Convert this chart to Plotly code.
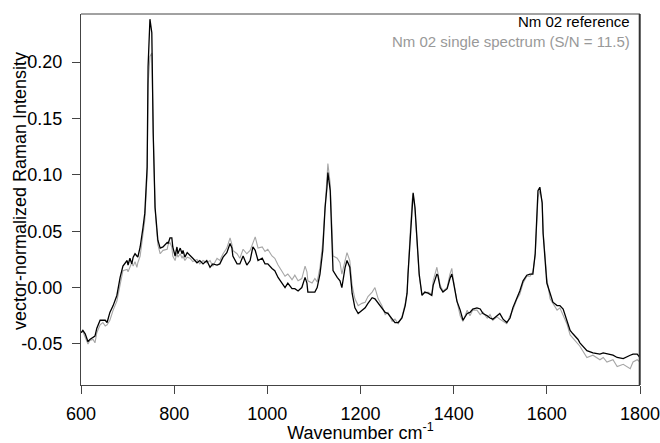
import plotly.graph_objects as go

# Raman shift axis (cm^-1) shared by both spectra
wavenumber = [
    600, 604, 609, 615, 619, 626, 630, 634, 641, 647, 652, 656, 662, 669, 677, 684,
    688, 690, 699, 701, 705, 709, 712, 716, 720, 722, 727, 731, 733, 737, 742, 744,
    748, 752, 755, 759, 763, 765, 770, 776, 785, 787, 791, 795, 797, 802, 806, 808,
    813, 817, 819, 823, 828, 834, 840, 849, 855, 862, 870, 877, 883, 892, 898, 905,
    913, 920, 924, 926, 935, 941, 948, 956, 963, 969, 974, 980, 989, 995, 1001, 1010,
    1016, 1023, 1031, 1038, 1044, 1053, 1059, 1066, 1074, 1081, 1085, 1087, 1096, 1102, 1107, 1113,
    1119, 1124, 1128, 1130, 1135, 1139, 1141, 1150, 1156, 1160, 1167, 1171, 1177, 1182, 1188, 1195,
    1203, 1210, 1216, 1225, 1231, 1238, 1246, 1253, 1259, 1268, 1274, 1281, 1289, 1296, 1300, 1302,
    1306, 1311, 1313, 1317, 1321, 1326, 1332, 1338, 1345, 1353, 1356, 1364, 1366, 1371, 1377, 1386,
    1392, 1396, 1399, 1407, 1414, 1420, 1429, 1435, 1441, 1450, 1457, 1463, 1472, 1478, 1484, 1493,
    1499, 1506, 1514, 1521, 1527, 1536, 1542, 1549, 1557, 1564, 1570, 1575, 1579, 1581, 1585, 1590,
    1592, 1596, 1600, 1607, 1613, 1622, 1628, 1635, 1643, 1650, 1656, 1667, 1671, 1686, 1699, 1714,
    1721, 1729, 1742, 1751, 1764, 1779, 1785, 1794, 1800,
]

# Nm 02 reference spectrum
reference = [
    -0.040, -0.038, -0.041, -0.048, -0.046, -0.044, -0.043, -0.036, -0.029, -0.029, -0.029, -0.031, -0.022, -0.016, -0.007, 0.009,
    0.018, 0.019, 0.024, 0.020, 0.026, 0.021, 0.027, 0.030, 0.028, 0.027, 0.036, 0.051, 0.053, 0.066, 0.107, 0.196,
    0.238, 0.226, 0.137, 0.071, 0.053, 0.042, 0.035, 0.036, 0.040, 0.039, 0.044, 0.044, 0.036, 0.028, 0.036, 0.030,
    0.035, 0.030, 0.033, 0.027, 0.031, 0.028, 0.026, 0.022, 0.024, 0.021, 0.024, 0.018, 0.021, 0.020, 0.021, 0.027,
    0.031, 0.039, 0.035, 0.028, 0.021, 0.021, 0.028, 0.020, 0.024, 0.036, 0.033, 0.024, 0.026, 0.021, 0.021, 0.017,
    0.015, 0.009, 0.004, 0.000, 0.004, -0.001, -0.001, -0.003, 0.000, 0.009, 0.004, -0.004, -0.004, -0.004, 0.000, 0.012,
    0.033, 0.071, 0.089, 0.102, 0.086, 0.044, 0.015, 0.009, 0.006, 0.000, 0.018, 0.024, 0.018, -0.005, -0.018, -0.023,
    -0.020, -0.018, -0.014, -0.009, -0.010, -0.014, -0.019, -0.022, -0.023, -0.028, -0.031, -0.031, -0.027, -0.016, -0.005, 0.012,
    0.042, 0.077, 0.084, 0.071, 0.042, 0.012, -0.007, -0.004, -0.005, -0.007, 0.002, 0.012, 0.011, 0.000, -0.004, -0.001,
    0.008, 0.012, 0.006, -0.012, -0.020, -0.029, -0.023, -0.022, -0.019, -0.018, -0.019, -0.023, -0.025, -0.027, -0.028, -0.025,
    -0.023, -0.028, -0.031, -0.027, -0.018, -0.009, -0.003, 0.006, 0.011, 0.012, 0.012, 0.030, 0.066, 0.086, 0.089, 0.075,
    0.048, 0.024, 0.004, -0.005, -0.013, -0.016, -0.016, -0.019, -0.029, -0.038, -0.041, -0.046, -0.049, -0.056, -0.058, -0.059,
    -0.058, -0.059, -0.060, -0.062, -0.063, -0.060, -0.059, -0.059, -0.062,
]

# Nm 02 single spectrum (S/N = 11.5)
single = [
    -0.040, -0.039, -0.044, -0.050, -0.047, -0.046, -0.049, -0.040, -0.033, -0.031, -0.034, -0.033, -0.029, -0.020, -0.012, 0.002,
    0.012, 0.015, 0.016, 0.014, 0.018, 0.022, 0.019, 0.023, 0.018, 0.022, 0.028, 0.042, 0.050, 0.060, 0.100, 0.180,
    0.205, 0.208, 0.140, 0.070, 0.048, 0.038, 0.030, 0.033, 0.034, 0.038, 0.040, 0.036, 0.028, 0.024, 0.031, 0.027,
    0.030, 0.026, 0.028, 0.024, 0.027, 0.026, 0.023, 0.025, 0.021, 0.024, 0.022, 0.024, 0.019, 0.026, 0.024, 0.030,
    0.035, 0.044, 0.038, 0.033, 0.030, 0.026, 0.034, 0.030, 0.033, 0.040, 0.045, 0.035, 0.036, 0.032, 0.034, 0.028,
    0.026, 0.020, 0.015, 0.010, 0.012, 0.007, 0.011, 0.006, 0.008, 0.019, 0.014, 0.006, 0.004, 0.008, 0.005, 0.018,
    0.040, 0.075, 0.095, 0.110, 0.092, 0.050, 0.028, 0.026, 0.022, 0.012, 0.025, 0.031, 0.024, 0.002, -0.010, -0.016,
    -0.014, -0.013, -0.008, -0.004, 0.000, -0.010, -0.016, -0.024, -0.022, -0.030, -0.028, -0.032, -0.026, -0.014, -0.004, 0.014,
    0.044, 0.078, 0.083, 0.068, 0.040, 0.010, -0.006, -0.005, -0.004, -0.006, 0.006, 0.018, 0.013, 0.002, -0.003, 0.000,
    0.012, 0.017, 0.008, -0.012, -0.025, -0.030, -0.020, -0.025, -0.020, -0.020, -0.024, -0.022, -0.027, -0.024, -0.029, -0.026,
    -0.028, -0.030, -0.032, -0.025, -0.020, -0.010, -0.006, 0.004, 0.010, 0.010, 0.014, 0.028, 0.062, 0.080, 0.086, 0.076,
    0.050, 0.030, 0.008, -0.010, -0.014, -0.020, -0.018, -0.024, -0.032, -0.042, -0.045, -0.050, -0.052, -0.062, -0.060, -0.064,
    -0.062, -0.066, -0.064, -0.070, -0.068, -0.072, -0.066, -0.064, -0.066,
]

x_ticks = [600, 800, 1000, 1200, 1400, 1600, 1800]
y_ticks = [-0.05, 0.00, 0.05, 0.10, 0.15, 0.20]
y_tick_labels = ["-0.05", "0.00", "0.05", "0.10", "0.15", "0.20"]

FONT = "Liberation Sans, Arial, sans-serif"
AXIS_COLOR = "#444444"

fig = go.Figure()
fig.add_trace(go.Scatter(
    x=wavenumber, y=single, mode="lines",
    line=dict(color="#a6a6a6", width=1.1), name="Nm 02 single spectrum (S/N = 11.5)",
))
fig.add_trace(go.Scatter(
    x=wavenumber, y=reference, mode="lines",
    line=dict(color="#000000", width=1.3), name="Nm 02 reference",
))

fig.update_layout(
    width=660, height=443,
    margin=dict(l=81, r=20, t=14, b=58, autoexpand=False),
    paper_bgcolor="white", plot_bgcolor="white",
    showlegend=False,
    font=dict(family=FONT, size=18, color="#000000"),
)
fig.update_xaxes(
    range=[600, 1800], tickvals=x_ticks, automargin=False,
    showgrid=False, zeroline=False,
    showline=True, linecolor=AXIS_COLOR, linewidth=1,
    ticks="outside", ticklen=8, tickcolor=AXIS_COLOR, tickwidth=1,
    ticklabelstandoff=4, ticklabeloverflow="allow",
    tickfont=dict(family=FONT, size=18),
    title=dict(text="Wavenumber cm<sup>-1</sup>", font=dict(family=FONT, size=18), standoff=2),
)
fig.update_yaxes(
    range=[-0.0864, 0.2426], tickvals=y_ticks, ticktext=y_tick_labels, automargin=False,
    showgrid=False, zeroline=False,
    showline=True, linecolor=AXIS_COLOR, linewidth=1,
    ticks="outside", ticklen=8, tickcolor=AXIS_COLOR, tickwidth=1,
    ticklabelstandoff=6, ticklabeloverflow="allow",
    tickfont=dict(family=FONT, size=18),
)

# frame: top and right edges of the plotting area
fig.add_shape(type="line", xref="paper", yref="paper", x0=0, x1=1, y0=1, y1=1,
              line=dict(color=AXIS_COLOR, width=1), layer="above")
fig.add_shape(type="line", xref="paper", yref="paper", x0=0.9995, x1=0.9995, y0=0, y1=1,
              line=dict(color="#333333", width=2), layer="above")

# y-axis title
fig.add_annotation(
    xref="paper", yref="paper", x=-0.109, y=0.523, xanchor="center", yanchor="middle",
    text="vector-normalized Raman Intensity", textangle=-90, showarrow=False,
    font=dict(family=FONT, size=18, color="#000000"),
)

fig.add_annotation(
    xref="paper", yref="paper", x=0.986, y=0.98, xanchor="right", yanchor="middle",
    text="Nm 02 reference", showarrow=False,
    font=dict(family=FONT, size=15, color="#000000"),
)
fig.add_annotation(
    xref="paper", yref="paper", x=0.986, y=0.925, xanchor="right", yanchor="middle",
    text="Nm 02 single spectrum (S/N = 11.5)", showarrow=False,
    font=dict(family=FONT, size=15, color="#999999"),
)

fig.write_html("out.html")
